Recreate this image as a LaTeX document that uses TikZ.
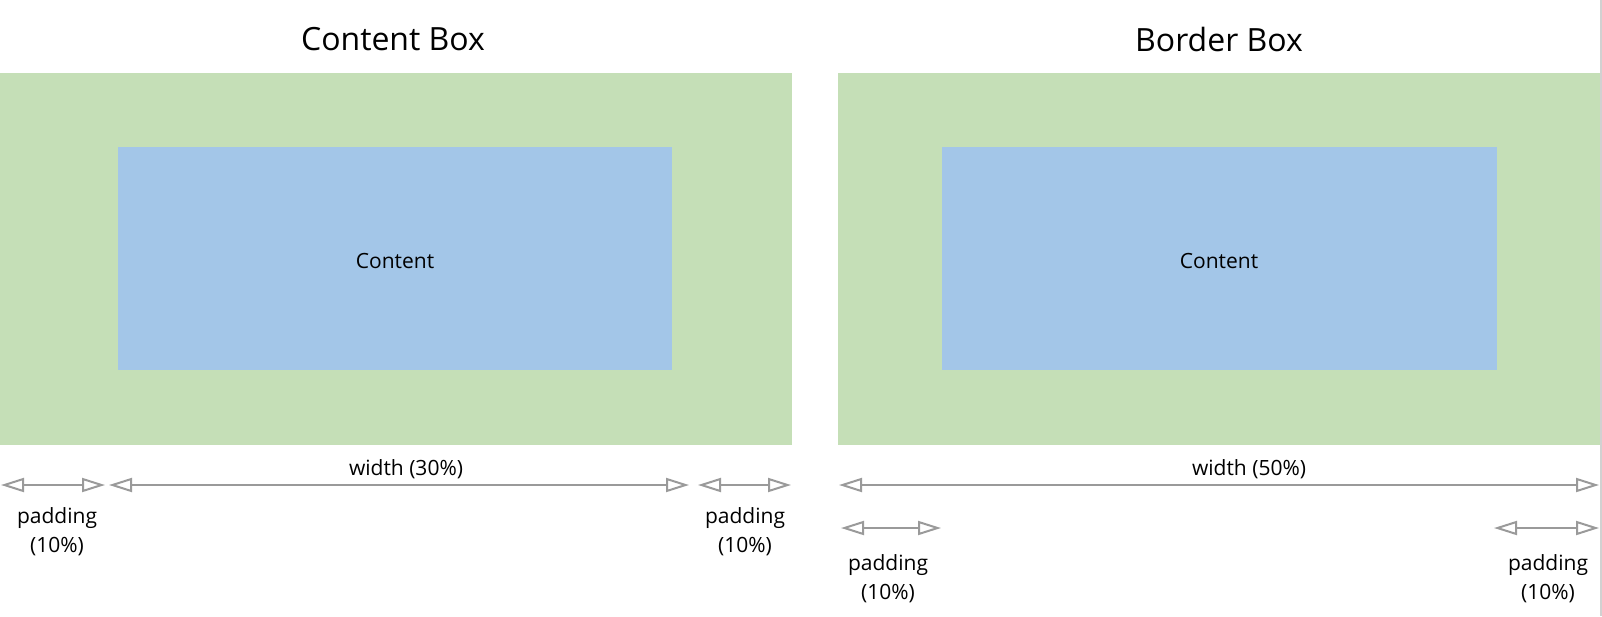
\documentclass[tikz,border=0pt]{standalone}
\usepackage{fontspec}
\setmainfont{Open Sans}
\usetikzlibrary{arrows.meta}
\definecolor{padgreen}{HTML}{C5DFB7}
\definecolor{contblue}{HTML}{A3C6E8}
\definecolor{dimgrey}{HTML}{9A9A9A}
\begin{document}
\begin{tikzpicture}[x=1pt, y=-1pt,
    dim/.style={{Triangle[open,length=23pt,width=14pt]}-{Triangle[open,length=23pt,width=14pt]}, line width=2pt, dimgrey, shorten <=1pt, shorten >=1pt},
    title/.style={font=\fontsize{32}{38}\selectfont},
    label/.style={font=\fontsize{21}{29}\selectfont, align=center, inner sep=0pt}]
    \useasboundingbox (0,0) rectangle (1602,616);

    % boxes
    \fill[padgreen] (0,73) rectangle (792,445);
    \fill[contblue] (118,147) rectangle (672,370);
    \fill[padgreen] (838,73) rectangle (1600,445);
    \fill[contblue] (942,147) rectangle (1497,370);
    \draw[line width=2pt, black!18] (1601,0) -- (1601,616);

    \node[title] (t1) at (393,39) {Content Box};
    \node[title] (t2) at (1219,39) {Border Box};
    \node[label] (c1) at (395,261) {Content};
    \node[label] (c2) at (1219,261) {Content};

    % content box measures
    \coordinate (a0) at (0,485); \coordinate (a1) at (106,485);
    \coordinate (a2) at (108,485); \coordinate (a3) at (690,485);
    \coordinate (a4) at (697,485); \coordinate (a5) at (792,485);
    \draw[dim] (a0)--(a1); \draw[dim] (a2)--(a3); \draw[dim] (a4)--(a5);
    \node[label] (w1) at (406,469) {width (30\%)};
    \node[label] (p1) at (57,532) {padding\\(10\%)};
    \node[label] (p2) at (745,532) {padding\\(10\%)};

    % border box measures
    \coordinate (b0) at (838,485); \coordinate (b1) at (1600,485);
    \coordinate (b2) at (840,528); \coordinate (b3) at (942,528);
    \coordinate (b4) at (1493,528); \coordinate (b5) at (1600,528);
    \draw[dim] (b0)--(b1); \draw[dim] (b2)--(b3); \draw[dim] (b4)--(b5);
    \node[label] (w2) at (1249,469) {width (50\%)};
    \node[label] (p3) at (888,579) {padding\\(10\%)};
    \node[label] (p4) at (1548,579) {padding\\(10\%)};
\end{tikzpicture}
\end{document}
